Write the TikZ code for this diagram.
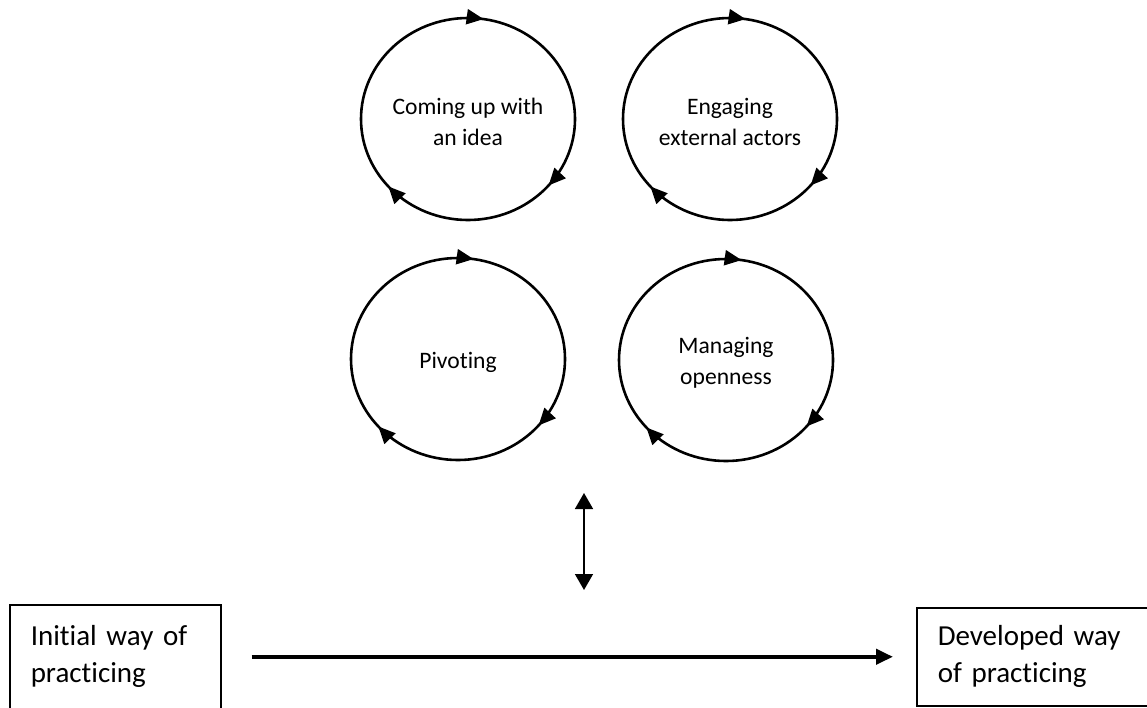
\documentclass[tikz,border=0pt]{standalone}
\usepackage{fontspec}
\setmainfont{Carlito}[Ligatures=NoCommon]
\usetikzlibrary{arrows.meta,decorations.markings}

\tikzset{
  ringtip/.tip={Triangle[length=17pt,width=15pt]},
  ringtext/.style={align=center, font=\fontsize{23.6}{31}\selectfont},
  ring/.style={line width=2.6pt, postaction={decorate},
    decoration={markings,
      mark=at position 0.024 with {\arrow{ringtip}},
      mark=at position 0.362 with {\arrow{ringtip}},
      mark=at position 0.636 with {\arrow{ringtip}}}},
  practice/.style={draw, line width=1.5pt, anchor=north west, align=left,
    inner xsep=21pt, font=\fontsize{29}{37}\selectfont}
}

\begin{document}
\begin{tikzpicture}[x=1pt,y=1pt]
\useasboundingbox (0,0) rectangle (1147,-707);
\clip (0,0) rectangle (1147,-707);

% the four cycles
\foreach \name/\cx/\cy/\txt in {idea/468/-119/{Coming up with\\an idea},
    actors/730/-119/{Engaging\\external actors},
    pivot/458/-359/{Pivoting},
    open/726/-360/{Managing\\openness}}{
  \node[ringtext] (\name) at (\cx,\cy-3) {\txt};
  \draw[ring] ([yshift=104pt]\name.center) arc[start angle=90, end angle=-270, x radius=107, y radius=101];
}

% interplay arrow
\coordinate (above) at (584,-493);
\coordinate (below) at (584,-590);
\draw[{Triangle[length=16pt,width=18pt]}-{Triangle[length=16pt,width=18pt]}, line width=1.6pt] (above) -- (below);

% ways of practicing
\node[practice, text width=169pt, minimum height=104pt] (initial) at (9,-604) {Initial way of\\practicing};
\node[practice, text width=198pt, minimum height=98pt] (developed) at (916,-607) {Developed way\\of practicing};
\draw[-{Triangle[length=17pt,width=15pt]}, line width=4pt, shorten <=30pt, shorten >=23pt] (initial.east) -- (developed.west);
\end{tikzpicture}
\end{document}
